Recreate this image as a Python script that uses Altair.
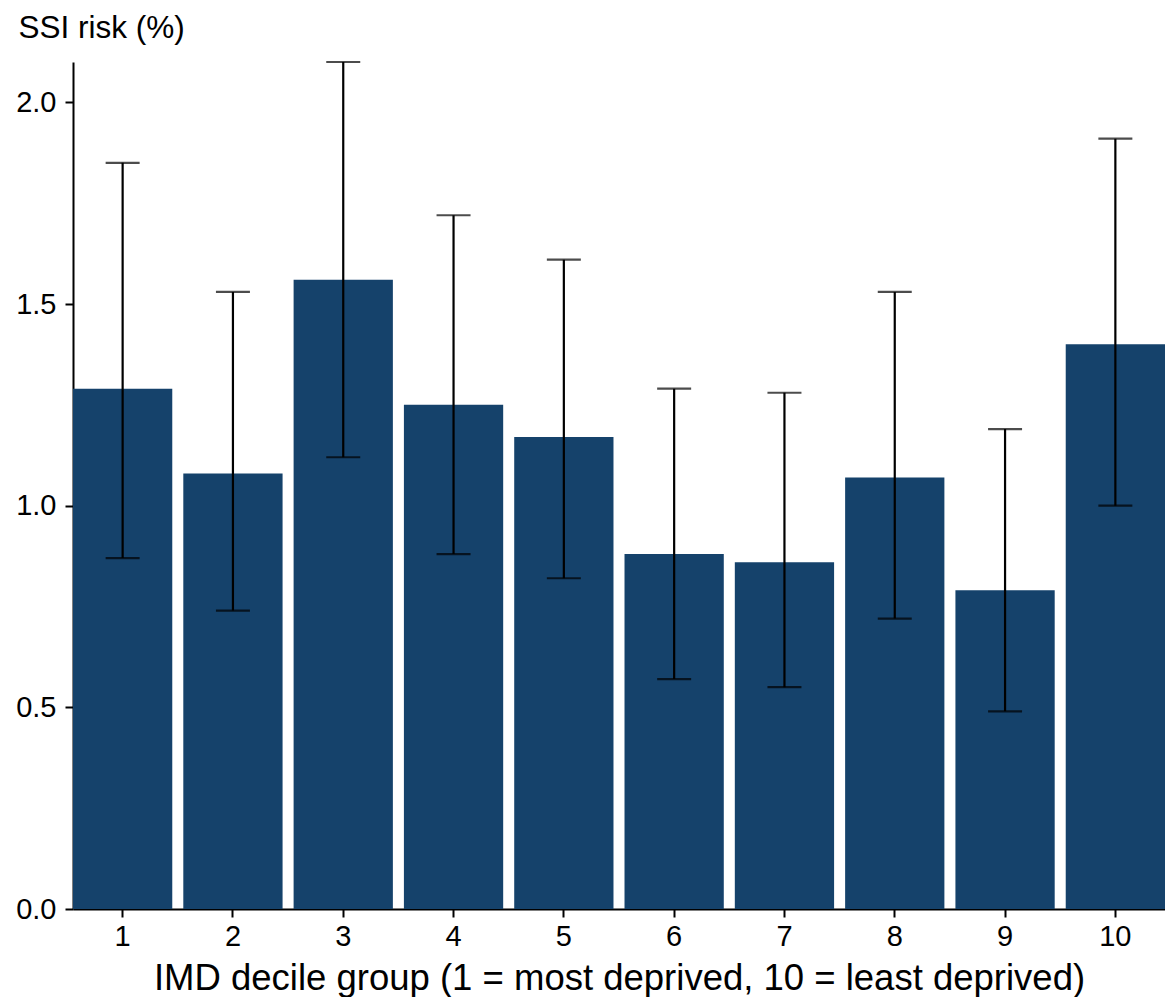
import altair as alt
import pandas as pd

deciles = ["1", "2", "3", "4", "5", "6", "7", "8", "9", "10"]
risk = [1.29, 1.08, 1.56, 1.25, 1.17, 0.88, 0.86, 1.07, 0.79, 1.40]
lower = [0.87, 0.74, 1.12, 0.88, 0.82, 0.57, 0.55, 0.72, 0.49, 1.00]
upper = [1.85, 1.53, 2.10, 1.72, 1.61, 1.29, 1.28, 1.53, 1.19, 1.91]

df = pd.DataFrame({"decile": deciles, "risk": risk, "lower": lower, "upper": upper})

FONT = "Liberation Sans"

x = alt.X(
    "decile:N",
    sort=deciles,
    scale=alt.Scale(paddingInner=0.1, paddingOuter=0),
    axis=alt.Axis(
        title="IMD decile group (1 = most deprived, 10 = least deprived)",
        labelAngle=0,
        titleFontSize=36.5,
        titleY=80,
        titleBaseline="alphabetic",
        labelPadding=5,
    ),
)

y_scale = alt.Scale(domain=[0, 2.1], nice=False, zero=True)

bars = alt.Chart(df).mark_bar(color="#15426B").encode(
    x=x,
    y=alt.Y(
        "risk:Q",
        scale=y_scale,
        axis=alt.Axis(
            title="SSI risk (%)",
            values=[0, 0.5, 1.0, 1.5, 2.0],
            format=".1f",
            titleAngle=0,
            titleAlign="left",
            titleBaseline="alphabetic",
            titleX=-55,
            titleY=-25,
            titleFontSize=31.5,
            labelPadding=9,
        ),
    ),
)

rules = alt.Chart(df).mark_rule(color="black", strokeWidth=2.2).encode(
    x=alt.X("decile:N", sort=deciles),
    y=alt.Y("lower:Q", scale=y_scale),
    y2="upper:Q",
)

cap_hi = alt.Chart(df).mark_tick(color="black", thickness=2.2, size=34).encode(
    x=alt.X("decile:N", sort=deciles),
    y=alt.Y("upper:Q", scale=y_scale),
)
cap_lo = alt.Chart(df).mark_tick(color="black", thickness=2.2, size=34).encode(
    x=alt.X("decile:N", sort=deciles),
    y=alt.Y("lower:Q", scale=y_scale),
)

chart = (
    alt.layer(bars, rules, cap_hi, cap_lo)
    .properties(
        width=1092,
        height=847,
        padding={"left": 7, "top": 4, "right": 0, "bottom": 0},
    )
    .configure_view(stroke=None)
    .configure_axis(
        grid=False,
        domainColor="black",
        domainWidth=2,
        tickColor="black",
        tickWidth=2,
        tickSize=8,
        labelFont=FONT,
        titleFont=FONT,
        labelFontSize=29,
        labelColor="black",
        titleColor="black",
        titleFontWeight="normal",
    )
)

chart.save("out.html", embed_options={"renderer": "svg", "actions": False})
